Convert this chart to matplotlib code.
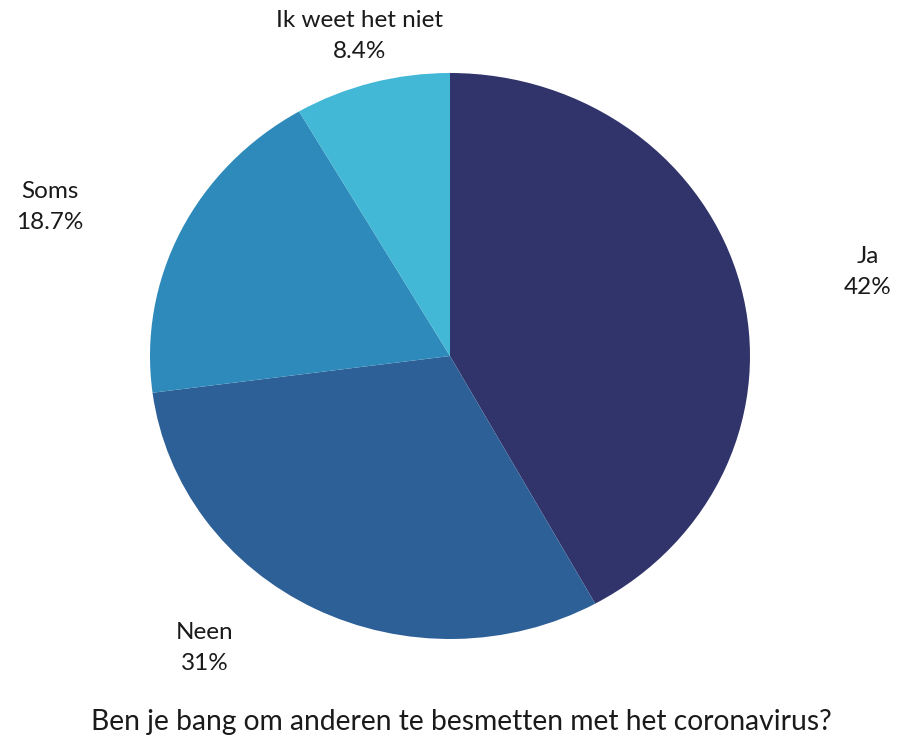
import matplotlib.pyplot as plt

# survey answers, clockwise from the top
answers = ["Ja", "Neen", "Soms", "Ik weet het niet"]
shares = [42, 31, 18.7, 8.4]
share_labels = ["42%", "31%", "18.7%", "8.4%"]
colors = ["#31346b", "#2e6098", "#2e8aba", "#42b8d6"]

plt.rcParams["font.family"] = ["Lato", "DejaVu Sans"]

W, H = 923, 747
fig = plt.figure(figsize=(W / 100, H / 100), dpi=100)

# pie is drawn slightly wider than tall
cx, cy, rx, ry = 450, 356, 300, 283
ax = fig.add_axes([(cx - rx) / W, (H - cy - ry) / H, 2 * rx / W, 2 * ry / H])
ax.pie(shares, colors=colors, startangle=90, counterclock=False,
       wedgeprops=dict(linewidth=0))
ax.set_xlim(-1, 1)
ax.set_ylim(-1, 1)
ax.set_aspect("auto")
ax.axis("off")

# label positions in figure pixels
label_pos = [(868, 272), (205, 648), (50, 207), (360, 36)]
for name, pct, (x, y) in zip(answers, share_labels, label_pos):
    fig.text(x / W, 1 - y / H, name + "\n" + pct, ha="center", va="center",
             fontsize=17.5, color="#1a1a1a", linespacing=1.55)

fig.text(461 / W, 1 - 722 / H,
         "Ben je bang om anderen te besmetten met het coronavirus?",
         ha="center", va="center", fontsize=20.3, color="#1a1a1a")

fig.savefig("out.png", dpi=100, facecolor="white")
